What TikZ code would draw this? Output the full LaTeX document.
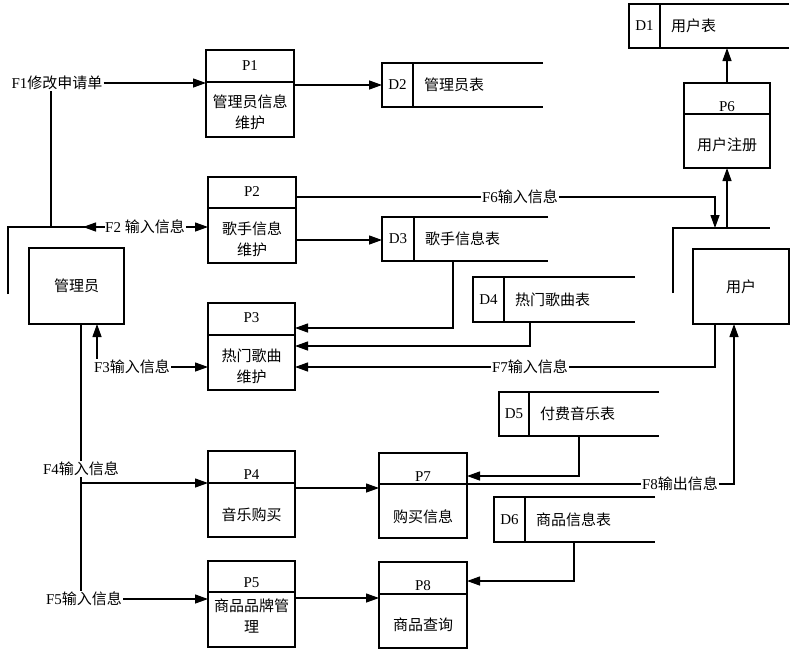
\documentclass[tikz,border=0pt]{standalone}
\usepackage{fontspec}
\setmainfont{Liberation Serif}
\newfontfamily\cjk{Noto Sans CJK SC}
\newcommand\zh[1]{{\cjk #1}}
\usetikzlibrary{arrows.meta,calc}
\tikzset{
  box/.style={draw, line width=1.5pt, inner sep=0pt, outer sep=0pt},
  conn/.style={line width=1.3pt},
  arr/.style={conn, -{Triangle[length=13pt,width=9pt]}},
  lbl/.style={inner sep=1pt},
  txt/.style={inner sep=0pt, align=center},
}
\newcommand\proc[9]{%
  \node[box, minimum width={(#4-#2)*1pt}, minimum height={(#6-#3)*1pt}] (#1) at ({(#2+#4)/2},{(#3+#6)/2}) {};
  \draw[box] (#2,#5) -- (#4,#5);
  \node[txt] at ({(#2+#4)/2},#7) {#1};
  \node[txt] at ({(#2+#4)/2},#8) {#9};
}
\newcommand\store[7]{%
  \node[inner sep=0pt, outer sep=0pt, minimum width={(#4-#2)*1pt}, minimum height={(#6-#5)*1pt}] (#1) at ({(#2+#4)/2},{(#5+#6)/2}) {};
  \draw[box] (#4,#5) -- (#2,#5) -- (#2,#6) -- (#4,#6);
  \draw[box] (#3,#5) -- (#3,#6);
  \node[txt] at ({(#2+#3)/2},{(#5+#6)/2}) {#1};
  \node[txt, anchor=west] at ({#3+11},{(#5+#6)/2}) {#7};
}
\begin{document}
\begin{tikzpicture}[x=1pt, y=-1pt, font=\fontsize{15}{21}\selectfont]
\useasboundingbox[fill=white] (0,0) rectangle (794,654);

% processes
\proc{P1}{206}{50}{294}{82}{137}{66}{112}{\zh{管理员信息}\\\zh{维护}}
\proc{P2}{208}{177}{296}{208}{263}{192}{239}{\zh{歌手信息}\\\zh{维护}}
\proc{P3}{208}{303}{295}{335}{390}{318}{366}{\zh{热门歌曲}\\\zh{维护}}
\proc{P4}{208}{451}{295}{483}{537}{475}{515}{\zh{音乐购买}}
\proc{P5}{208}{561}{295}{592}{647}{583}{616}{\zh{商品品牌管}\\\zh{理}}
\proc{P6}{684}{83}{770}{114}{168}{107}{145}{\zh{用户注册}}
\proc{P7}{379}{453}{467}{484}{538}{477}{517}{\zh{购买信息}}
\proc{P8}{379}{562}{467}{594}{648}{586}{625}{\zh{商品查询}}

% data stores
\store{D1}{629}{660}{789}{4}{48}{\zh{用户表}}
\store{D2}{382}{413}{543}{63}{107}{\zh{管理员表}}
\store{D3}{382}{414}{548}{217}{261}{\zh{歌手信息表}}
\store{D4}{473}{504}{635}{277}{322}{\zh{热门歌曲表}}
\store{D5}{499}{529}{659}{392}{436}{\zh{付费音乐表}}
\store{D6}{494}{525}{655}{497}{542}{\zh{商品信息表}}

% external entities
\node[box, minimum width=95pt, minimum height=76pt] (admin) at (76.5,286) {\zh{管理员}};
\draw[box] (8,294) -- (8,227) -- (105,227);
\node[box, minimum width=96pt, minimum height=75pt] (user) at (741,286.5) {\zh{用户}};
\draw[box] (673,293) -- (673,228) -- (770,228);
\coordinate (utop) at (715,228);
\coordinate (aleft) at (83,227);

% flow labels
\node[lbl] (f1) at (57,83) {F1\zh{修改申请单}};
\node[lbl] (f2) at (145,227) {F2 \zh{输入信息}};
\node[lbl] (f3) at (132,367) {F3\zh{输入信息}};
\node[lbl] (f4) at (81,469) {F4\zh{输入信息}};
\node[lbl] (f5) at (84,599) {F5\zh{输入信息}};
\node[lbl] (f6) at (520,197) {F6\zh{输入信息}};
\node[lbl] (f7) at (530,367) {F7\zh{输入信息}};
\node[lbl] (f8) at (680,484) {F8\zh{输出信息}};

% connectors
\draw[arr] (f1.east) -- (P1.west |- f1.east);
\draw[conn] (f1.south -| 51,0) -- (51,227);
\draw[arr] (f2.west) -- (aleft);
\draw[arr] (f2.east) -- (P2.west |- f2.east);
\draw[conn] (P2.east |- f6.west) -- (f6.west);
\draw[arr] (f6.east) -| (utop);
\draw[arr] (P2.east |- 0,240) -- (D3.west |- 0,240);
\draw[arr] (P6.south |- utop) -- (P6.south);
\draw[arr] (P6.north) -- (P6.north |- D1.south);
\draw[arr] (P1.east |- 0,85) -- (D2.west |- 0,85);
\draw[arr] (D3.south -| 453,0) |- (P3.east |- 0,328);
\draw[arr] (D4.south -| 530,0) |- (P3.east |- 0,346);
\draw[conn] (user.south -| 715,0) |- (f7.east);
\draw[arr] (f7.west) -- (P3.east |- f7.west);
\draw[arr] (f3.east) -- (P3.west |- f3.east);
\draw[arr] (f3.north -| 97,0) -- (admin.south -| 97,0);
\draw[conn] (admin.south -| 81,0) -- (f4.north);
\draw[conn] (f4.south) -- (f5.north -| f4.south);
\draw[arr] (f4.south |- 0,483) -- (P4.west |- 0,483);
\draw[arr] (f5.east) -- (P5.west |- f5.east);
\draw[arr] (P4.east |- 0,488) -- (P7.west |- 0,488);
\draw[arr] (D5.south -| 579,0) |- (P7.east |- 0,476);
\draw[conn] (P7.east |- f8.west) -- (f8.west);
\draw[arr] (f8.east) -| (user.south -| 734,0);
\draw[arr] (D6.south -| 574,0) |- (P8.east |- 0,581);
\draw[arr] (P5.east |- 0,598) -- (P8.west |- 0,598);
\end{tikzpicture}
\end{document}
